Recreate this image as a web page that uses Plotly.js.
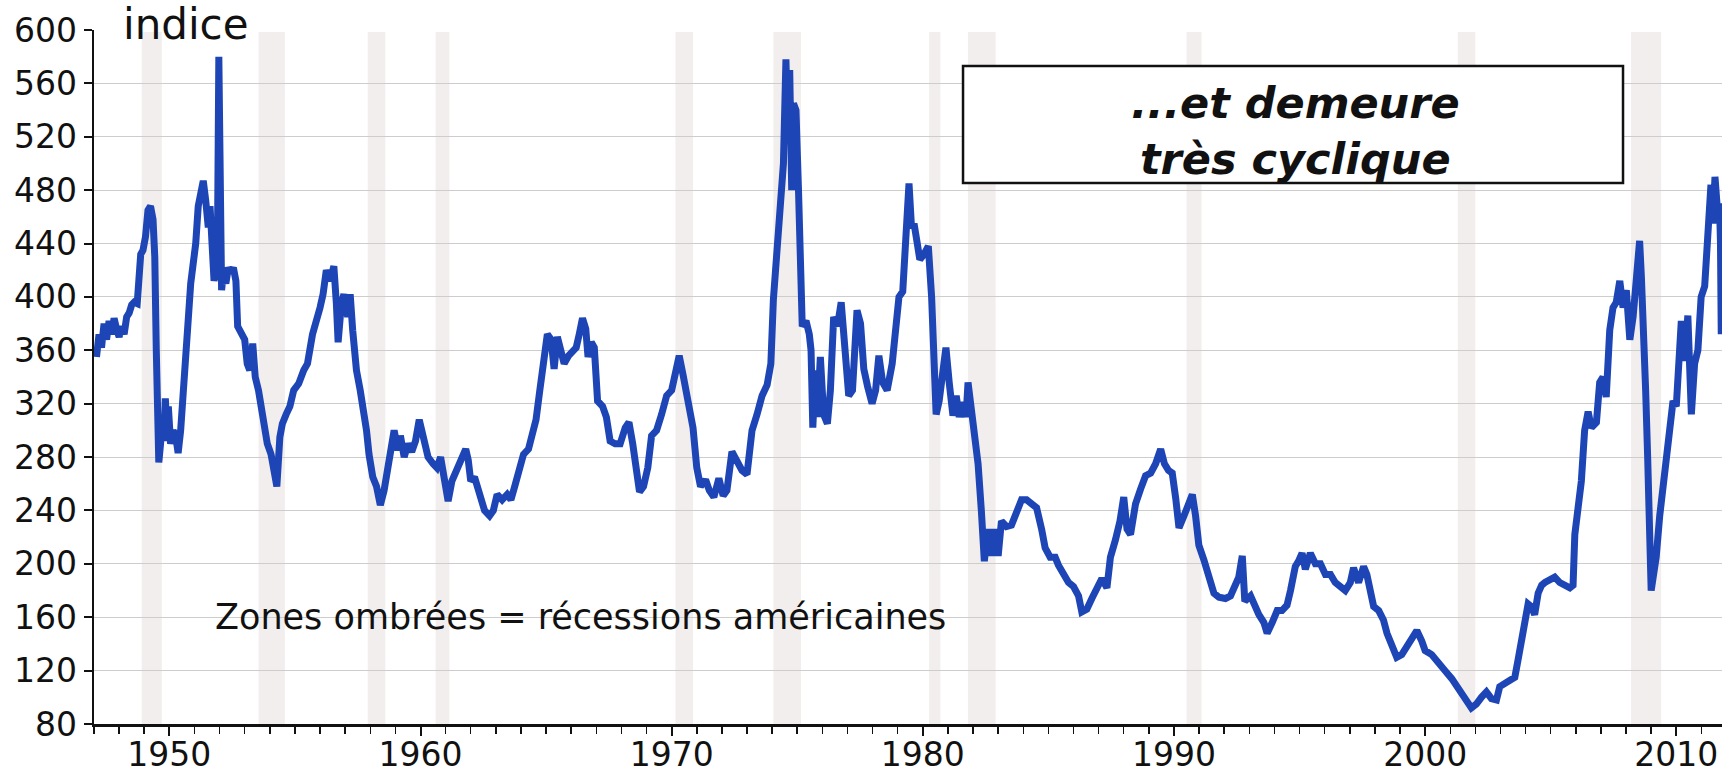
<!DOCTYPE html>
<html>
<head>
<meta charset="utf-8">
<script src="https://cdn.plot.ly/plotly-3.0.1.min.js"></script>
<style>
html,body{margin:0;padding:0;background:#ffffff;}
#chart{width:1731px;height:777px;}
</style>
</head>
<body>
<div id="chart"></div>
<script>
// ---- data ----
const years = [
1947.10,1947.20,1947.30,1947.40,1947.50,1947.60,1947.70,1947.80,1947.90,1948.00,
1948.10,1948.20,1948.30,1948.40,1948.50,1948.60,1948.72,1948.80,1948.86,1948.95,
1949.05,1949.15,1949.25,1949.35,1949.42,1949.48,1949.52,1949.58,1949.65,1949.72,
1949.78,1949.84,1949.90,1949.96,1950.05,1950.15,1950.25,1950.35,1950.45,1950.55,
1950.64,1950.75,1950.85,1950.95,1951.05,1951.15,1951.25,1951.35,1951.45,1951.55,
1951.62,1951.70,1951.78,1951.86,1951.92,1951.97,1952.02,1952.08,1952.15,1952.25,
1952.35,1952.45,1952.55,1952.65,1952.72,1952.85,1953.00,1953.10,1953.20,1953.32,
1953.42,1953.55,1953.65,1953.78,1953.90,1954.05,1954.15,1954.28,1954.40,1954.50,
1954.65,1954.80,1954.95,1955.15,1955.35,1955.50,1955.70,1955.85,1956.00,1956.12,
1956.25,1956.40,1956.55,1956.65,1956.72,1956.85,1956.95,1957.10,1957.20,1957.30,
1957.45,1957.60,1957.70,1957.85,1957.95,1958.10,1958.25,1958.40,1958.55,1958.70,
1958.85,1958.95,1959.10,1959.20,1959.35,1959.50,1959.65,1959.80,1959.95,1960.05,
1960.15,1960.30,1960.50,1960.65,1960.80,1960.95,1961.10,1961.25,1961.45,1961.65,
1961.80,1961.90,1962.00,1962.15,1962.35,1962.55,1962.75,1962.90,1963.05,1963.25,
1963.45,1963.60,1963.75,1963.95,1964.10,1964.30,1964.45,1964.60,1964.75,1964.90,
1965.05,1965.20,1965.32,1965.45,1965.58,1965.72,1965.90,1966.05,1966.20,1966.32,
1966.45,1966.58,1966.67,1966.80,1966.92,1967.05,1967.25,1967.40,1967.55,1967.75,
1967.95,1968.15,1968.30,1968.45,1968.58,1968.72,1968.88,1969.05,1969.20,1969.40,
1969.60,1969.80,1970.00,1970.15,1970.30,1970.45,1970.65,1970.85,1971.00,1971.15,
1971.35,1971.50,1971.68,1971.88,1972.05,1972.20,1972.40,1972.60,1972.80,1973.00,
1973.20,1973.40,1973.60,1973.80,1973.95,1974.05,1974.20,1974.32,1974.45,1974.55,
1974.62,1974.70,1974.78,1974.85,1974.95,1975.05,1975.12,1975.20,1975.35,1975.48,
1975.55,1975.62,1975.72,1975.80,1975.92,1976.05,1976.20,1976.32,1976.45,1976.60,
1976.75,1976.90,1977.05,1977.20,1977.38,1977.52,1977.65,1977.80,1977.98,1978.12,
1978.25,1978.40,1978.58,1978.78,1978.92,1979.05,1979.20,1979.33,1979.45,1979.55,
1979.65,1979.78,1979.88,1980.05,1980.22,1980.35,1980.45,1980.53,1980.65,1980.78,
1980.92,1981.05,1981.20,1981.33,1981.45,1981.58,1981.72,1981.80,1981.92,1982.05,
1982.20,1982.33,1982.45,1982.58,1982.72,1982.85,1983.00,1983.13,1983.33,1983.53,
1983.73,1983.93,1984.13,1984.33,1984.53,1984.73,1984.87,1985.07,1985.27,1985.40,
1985.60,1985.80,1986.00,1986.20,1986.33,1986.53,1986.73,1986.93,1987.13,1987.33,
1987.47,1987.67,1987.85,1988.00,1988.13,1988.27,1988.47,1988.67,1988.87,1989.07,
1989.27,1989.47,1989.62,1989.78,1989.93,1990.07,1990.20,1990.40,1990.60,1990.73,
1990.86,1990.99,1991.19,1991.39,1991.59,1991.79,1992.05,1992.25,1992.45,1992.58,
1992.72,1992.82,1993.05,1993.18,1993.38,1993.58,1993.71,1993.91,1994.11,1994.30,
1994.50,1994.64,1994.83,1994.96,1995.10,1995.23,1995.43,1995.63,1995.83,1996.03,
1996.23,1996.42,1996.62,1996.82,1997.02,1997.15,1997.35,1997.55,1997.68,1997.81,
1997.95,1998.15,1998.34,1998.48,1998.68,1998.87,1999.07,1999.27,1999.47,1999.67,
1999.87,2000.00,2000.26,2000.53,2000.79,2001.06,2001.30,2001.50,2001.70,2001.84,
2002.04,2002.24,2002.44,2002.64,2002.84,2002.97,2003.17,2003.37,2003.57,2003.70,
2003.83,2003.97,2004.10,2004.23,2004.36,2004.50,2004.64,2004.77,2004.96,2005.16,
2005.36,2005.56,2005.76,2005.89,2005.96,2006.09,2006.22,2006.35,2006.49,2006.62,
2006.82,2006.95,2007.08,2007.21,2007.35,2007.48,2007.61,2007.75,2007.88,2008.01,
2008.15,2008.28,2008.40,2008.54,2008.61,2008.67,2008.78,2008.86,2008.93,2009.00,
2009.08,2009.20,2009.34,2009.47,2009.60,2009.73,2009.87,2010.00,2010.07,2010.20,
2010.33,2010.46,2010.60,2010.73,2010.86,2010.99,2011.13,2011.26,2011.38,2011.46,
2011.54,2011.64,2011.72,2011.76,2011.79
];
const indexValues = [
355,372,362,380,368,382,372,384,376,370,
378,372,385,388,394,396,395,420,432,435,
445,465,468,458,430,360,300,276,290,310,
292,324,300,318,290,300,296,283,300,330,
358,372,410,425,440,468,478,487,472,452,
468,440,412,420,450,580,480,405,418,410,
422,418,422,412,378,372,368,350,345,365,
340,330,318,300,290,282,268,258,295,305,
312,318,330,335,345,350,372,385,392,402,
420,412,423,395,366,395,402,385,402,375,
345,330,320,300,282,265,258,244,255,272,
290,300,285,296,280,290,284,292,308,300,
292,280,275,272,280,262,247,262,272,280,
286,278,262,265,252,240,236,240,252,248,
252,248,258,270,282,286,298,308,330,352,
372,368,346,370,358,350,356,360,362,372,
384,376,355,366,362,322,318,310,292,290,
290,302,306,290,268,254,258,272,296,300,
312,326,330,344,356,342,322,302,272,258,
263,255,250,264,251,255,284,276,270,267,
300,312,326,334,350,398,440,465,500,578,
520,570,480,545,540,480,420,378,382,372,
360,302,345,310,355,312,305,330,385,378,
396,360,326,330,390,380,346,333,320,330,
356,336,330,350,378,400,404,440,485,452,
455,440,428,432,438,400,360,312,322,340,
362,336,311,326,310,321,310,336,320,294,
275,240,202,226,206,226,206,232,228,229,
237,248,248,245,242,226,212,205,205,199,
192,186,183,176,164,166,174,183,189,182,
205,218,232,250,226,222,245,256,266,268,
275,286,275,270,268,249,227,236,245,252,
236,214,203,190,178,175,174,176,186,190,
206,172,176,170,162,156,148,156,165,165,
169,180,198,202,208,196,208,200,200,192,
192,186,183,180,186,197,186,198,192,178,
168,165,158,148,138,130,132,138,142,150,
142,135,132,125,120,114,108,102,96,92,
95,100,104,99,98,108,110,112,115,128,
142,160,170,168,162,178,184,186,188,190,
186,184,182,184,222,242,262,300,314,302,
306,336,340,325,375,392,396,412,392,405,
368,385,418,442,415,365,330,280,225,180,
190,205,236,258,280,302,322,318,338,382,
352,386,312,350,360,400,408,460,484,455,
490,465,470,440,372
];
const recessionStart = [1948.90,1953.55,1957.90,1960.60,1970.15,1974.05,1980.25,1981.80,1990.50,2001.30,2008.20];
const recessionEnd   = [1949.70,1954.60,1958.60,1961.15,1970.85,1975.15,1980.70,1982.90,1991.10,2002.00,2009.40];
const yTickValues = [80,120,160,200,240,280,320,360,400,440,480,520,560,600];
const xTickValues = [1950,1960,1970,1980,1990,2000,2010];
const yAxisLabel = "indice";
const noteText = "Zones ombrées = récessions américaines";
const titleLines = ["...et demeure", "très cyclique"];

// ---- styling ----
const FONT = '"DejaVu Sans", "Liberation Sans", Arial, sans-serif';
const INK = '#111111';

const shapes = recessionStart.map((s, i) => ({
  type: 'rect', xref: 'x', yref: 'paper',
  x0: s, x1: recessionEnd[i], y0: 0, y1: 0.997,
  fillcolor: '#f3eeee', line: {width: 0}, layer: 'below'
}));
// title box
shapes.push({
  type: 'rect', xref: 'paper', yref: 'paper',
  x0: 0.5338, x1: 0.9392, y0: 0.7795, y1: 0.9481,
  fillcolor: '#ffffff', line: {color: INK, width: 2.5}, layer: 'above'
});

const trace = {
  type: 'scatter', mode: 'lines',
  x: years, y: indexValues,
  line: {color: '#1D45B5', width: 7},
  hoverinfo: 'skip', showlegend: false
};

const layout = {
  width: 1731, height: 777,
  margin: {l: 94, r: 9, t: 30, b: 53, pad: 0},
  paper_bgcolor: '#ffffff', plot_bgcolor: '#ffffff',
  showlegend: false,
  font: {family: FONT, color: INK, size: 32},
  xaxis: {
    range: [1947.0, 2011.82],
    tickmode: 'array', tickvals: xTickValues, ticktext: xTickValues.map(String),
    ticks: 'outside', ticklen: 9, tickwidth: 2, tickcolor: INK,
    ticklabelstandoff: -9,
    showline: true, linecolor: INK, linewidth: 2.5,
    showgrid: false, zeroline: false,
    tickfont: {family: FONT, size: 33, color: INK},
    minor: {tick0: 1947, dtick: 1, ticks: 'outside', ticklen: 7, tickwidth: 1.5, tickcolor: INK, showgrid: false}
  },
  yaxis: {
    range: [80, 600],
    tickmode: 'array', tickvals: yTickValues, ticktext: yTickValues.map(String),
    ticks: 'outside', ticklen: 8, tickwidth: 2, tickcolor: INK,
    showline: true, linecolor: INK, linewidth: 2.5,
    showgrid: true, gridcolor: '#cdcdcd', gridwidth: 1,
    zeroline: false,
    tickfont: {family: FONT, size: 33, color: INK}
  },
  shapes: shapes,
  annotations: [
    {xref: 'paper', yref: 'paper', x: 0.0166, y: 1.0086, xanchor: 'left', yanchor: 'middle',
     text: yAxisLabel, showarrow: false, font: {family: FONT, size: 42, color: INK}},
    {xref: 'paper', yref: 'paper', x: 0.0731, y: 0.154, xanchor: 'left', yanchor: 'middle',
     text: noteText, showarrow: false, font: {family: FONT, size: 35, color: INK}},
    {xref: 'paper', yref: 'paper', x: 0.7383, y: 0.8545, xanchor: 'center', yanchor: 'middle',
     align: 'center',
     text: '<b><i>' + titleLines[0] + '</i></b><br><b><i>' + titleLines[1] + '</i></b>',
     showarrow: false, font: {family: FONT, size: 43, color: INK}}
  ]
};

Plotly.newPlot('chart', [trace], layout, {displayModeBar: false, staticPlot: true});
</script>
</body>
</html>
